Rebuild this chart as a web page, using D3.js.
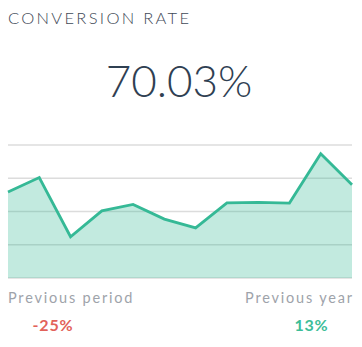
<!DOCTYPE html>
<html><head><meta charset="utf-8">
<script src="https://cdn.jsdelivr.net/npm/d3@7"></script>
<style>
html,body{margin:0;padding:0;background:#fff;}
svg{display:block;}
</style></head>
<body>
<svg id="c" width="362" height="347"></svg>
<script>
const title = "CONVERSION RATE";
const headline = "70.03%";
const periods = [0,1,2,3,4,5,6,7,8,9,10,11];
const values = [64.7, 75.5, 31, 50.5, 55.3, 44.3, 37.7, 56.5, 56.8, 56.3, 93.5, 70.03];
const yTicks = [0, 25, 50, 75, 100];
const compareLabels = ["Previous period", "Previous year"];
const compareValues = ["-25%", "13%"];

const svg = d3.select("#c");
const x = d3.scaleLinear().domain([0, periods.length - 1]).range([8, 352]);
const y = d3.scaleLinear().domain([0, 100]).range([278, 145]);

svg.append("text").attr("x", 8).attr("y", 24)
  .attr("font-family", "Lato, sans-serif").attr("font-weight", 300).attr("font-size", 16.5)
  .attr("letter-spacing", 2.3).attr("fill", "#3f4a58").text(title);

svg.append("text").attr("x", 179).attr("y", 97).attr("text-anchor", "middle")
  .attr("font-family", "Lato, sans-serif").attr("font-weight", 300).attr("font-size", 44)
  .attr("fill", "#2f4052").text(headline);

svg.append("g").selectAll("line").data(yTicks).join("line")
  .attr("x1", 8).attr("x2", 352)
  .attr("y1", d => y(d)).attr("y2", d => y(d))
  .attr("stroke", "#dcdcdc").attr("stroke-width", 1.3);

const area = d3.area().x((d, i) => x(periods[i])).y0(y(0)).y1(d => y(d));
const line = d3.line().x((d, i) => x(periods[i])).y(d => y(d));

svg.append("path").datum(values).attr("d", area)
  .attr("fill", "#35b996").attr("fill-opacity", 0.3);
svg.append("path").datum(values).attr("d", line)
  .attr("fill", "none").attr("stroke", "#35b996").attr("stroke-width", 2.8)
  .attr("stroke-linejoin", "miter");

svg.append("text").attr("x", 8).attr("y", 302.5)
  .attr("font-family", "Lato, sans-serif").attr("font-size", 14.5)
  .attr("letter-spacing", 1.8).attr("fill", "#9ea3aa").text(compareLabels[0]);
svg.append("text").attr("x", 353.8).attr("y", 302.5).attr("text-anchor", "end")
  .attr("font-family", "Lato, sans-serif").attr("font-size", 14.5)
  .attr("letter-spacing", 1.8).attr("fill", "#9ea3aa").text(compareLabels[1]);

svg.append("text").attr("x", 53).attr("y", 330.5).attr("text-anchor", "middle")
  .attr("font-family", "Lato, sans-serif").attr("font-weight", 700).attr("font-size", 16)
  .attr("letter-spacing", 0.8).attr("fill", "#e2625a").text(compareValues[0]);
svg.append("text").attr("x", 311.5).attr("y", 330.5).attr("text-anchor", "middle")
  .attr("font-family", "Lato, sans-serif").attr("font-weight", 700).attr("font-size", 16)
  .attr("letter-spacing", 0.8).attr("fill", "#3dbd98").text(compareValues[1]);
</script>
</body></html>
